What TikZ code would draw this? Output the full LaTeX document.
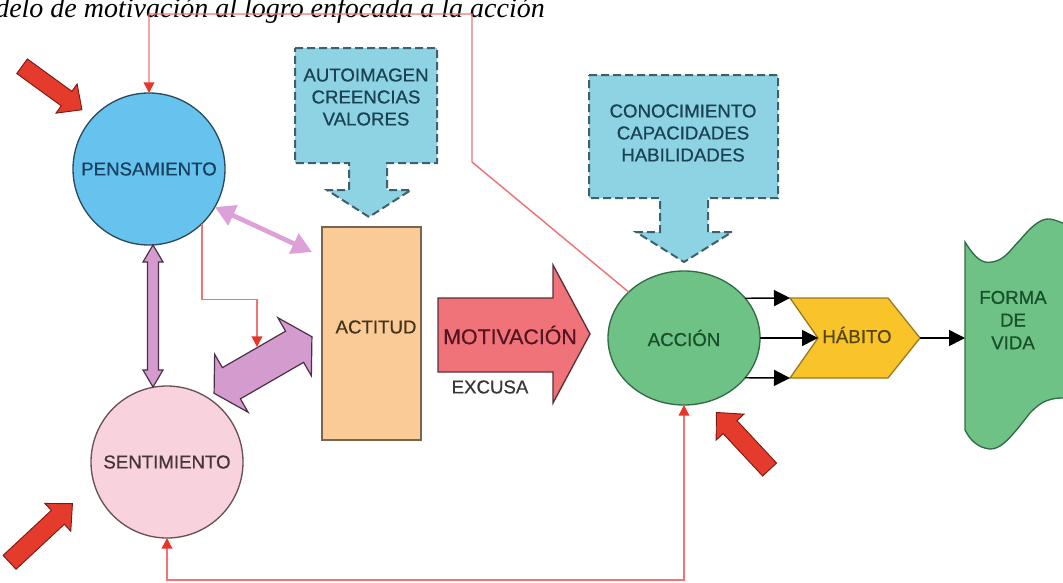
\documentclass[tikz,border=0pt]{standalone}
\usepackage{fontspec}
\setmainfont{Liberation Sans}
\newfontfamily\lblfont[FakeBold=0.7]{Liberation Sans}
\newfontfamily\titlefont{Liberation Serif}
\usetikzlibrary{shapes.geometric,arrows.meta,calc}
\definecolor{pensBlue}{HTML}{66C3EE}
\definecolor{pensEdge}{HTML}{2E4A5C}
\definecolor{pensText}{HTML}{1A4060}
\definecolor{sentPink}{HTML}{F8D2DC}
\definecolor{sentEdge}{HTML}{6B5058}
\definecolor{sentText}{HTML}{45343C}
\definecolor{actFill}{HTML}{FBCB97}
\definecolor{actEdge}{HTML}{7A6550}
\definecolor{actText}{HTML}{45341C}
\definecolor{motFill}{HTML}{F07379}
\definecolor{motEdge}{HTML}{5A3038}
\definecolor{motText}{HTML}{551520}
\definecolor{accFill}{HTML}{6EC286}
\definecolor{accEdge}{HTML}{2F6B45}
\definecolor{accText}{HTML}{17502A}
\definecolor{habFill}{HTML}{F9C42A}
\definecolor{habEdge}{HTML}{9A7A20}
\definecolor{habText}{HTML}{54440E}
\definecolor{callFill}{HTML}{8DD3E3}
\definecolor{callEdge}{HTML}{3F5F6B}
\definecolor{callText}{HTML}{1A4252}
\definecolor{purpFill}{HTML}{D49BCF}
\definecolor{purpEdge}{HTML}{4A3046}
\definecolor{pinkA}{HTML}{DDA0D8}
\definecolor{lineRed}{HTML}{F07474}
\definecolor{tipRed}{HTML}{E8352A}
\definecolor{arrowRed}{HTML}{E53B2C}
\definecolor{arrowRedDark}{HTML}{7A1A10}
\definecolor{excText}{HTML}{383838}
% single block arrow: cx, cy, angle, length, half shaft, half head, head length, style
\newcommand\blockarrowone[8]{%
  \path[#8, shift={(#1,#2)}, rotate=#3]
    ({-#4/2},{-#5}) -- ({#4/2-#7},{-#5}) -- ({#4/2-#7},{-#6}) -- ({#4/2},0)
    -- ({#4/2-#7},{#6}) -- ({#4/2-#7},{#5}) -- ({-#4/2},{#5}) -- cycle;}
% double block arrow
\newcommand\blockarrowtwo[8]{%
  \path[#8, shift={(#1,#2)}, rotate=#3]
    ({-#4/2},0) -- ({-#4/2+#7},{-#6}) -- ({-#4/2+#7},{-#5}) -- ({#4/2-#7},{-#5})
    -- ({#4/2-#7},{-#6}) -- ({#4/2},0) -- ({#4/2-#7},{#6}) -- ({#4/2-#7},{#5})
    -- ({-#4/2+#7},{#5}) -- ({-#4/2+#7},{#6}) -- cycle;}
\begin{document}
\begin{tikzpicture}[x=0.75pt,y=-0.75pt,
  lbl/.style={font=\lblfont\fontsize{14}{16.5}\selectfont, align=center, inner sep=0pt},
  callout/.style={fill=callFill, draw=callEdge, line width=1.5pt, dash pattern=on 6pt off 3pt},
  redline/.style={draw=lineRed, line width=1.1pt},
  redtip/.style={-{Triangle[length=8pt,width=8pt,color=tipRed]}},
  blk/.style={draw=black, line width=1.1pt, -{Triangle[length=12pt,width=12pt]}},
  pinkarrow/.style={draw=pinkA, line width=3.5pt, {Triangle[length=15pt,width=16pt]}-{Triangle[length=15pt,width=16pt]}},
  bigred/.style={fill=arrowRed, draw=arrowRedDark, line width=0.7pt, line join=miter},
  purparrow/.style={fill=purpFill, draw=purpEdge, line width=0.9pt, line join=miter},
  bubble/.style={line width=1pt, inner sep=0pt, outer sep=0pt}
]
\useasboundingbox (0,0) rectangle (1063,582);

% title (cut at the top edge as in the reference)
\node[anchor=base west, font=\titlefont\itshape\fontsize{21}{24}\selectfont, inner sep=0pt] (title) at (-5,17) {delo de motivación al logro enfocada a la acción};

% callouts
\path[callout] (295,48) -- (437,48) -- (437,163) -- (387,163) -- (387,190) -- (411,190) -- (369,217) -- (327,190) -- (349,190) -- (349,163) -- (295,163) -- cycle;
\node[lbl, text=callText] (auto) at (366,97) {AUTOIMAGEN\\CREENCIAS\\VALORES};
\path[callout] (589,75) -- (778,75) -- (778,198) -- (708,198) -- (708,232) -- (732,232) -- (684,262) -- (636,232) -- (660,232) -- (660,198) -- (589,198) -- cycle;
\node[lbl, text=callText] (cono) at (683,133) {CONOCIMIENTO\\CAPACIDADES\\HABILIDADES};

% main nodes
\node[bubble, circle, minimum size=114pt, fill=pensBlue, draw=pensEdge, lbl, text=pensText] (pens) at (149,169) {PENSAMIENTO};
\node[bubble, circle, minimum size=114pt, fill=sentPink, draw=sentEdge, lbl, text=sentText] (sent) at (167,462) {SENTIMIENTO};
\node[bubble, rectangle, minimum width=74.25pt, minimum height=159.75pt, fill=actFill, draw=actEdge] (act) at (371.5,333.5) {};
\node[lbl, text=actText] (acttxt) at (376,327) {ACTITUD};

% motivacion arrow
\path[fill=motFill, draw=motEdge, line width=1pt, line join=miter] (438,298) -- (553,298) -- (553,265) -- (590,334) -- (553,403) -- (553,372) -- (438,372) -- cycle;
\node[lbl, font=\lblfont\fontsize{16}{18}\selectfont, text=motText] (mot) at (510,335) {MOTIVACIÓN};
\node[lbl, text=excText] (exc) at (490,387) {EXCUSA};

% accion
\node[bubble, ellipse, minimum width=114pt, minimum height=100.5pt, fill=accFill, draw=accEdge, lbl, text=accText] (acc) at (684,338) {ACCIÓN};

% habito
\coordinate (habTL) at (790,298);
\coordinate (habN) at (818,338);
\coordinate (habBL) at (790,378);
\coordinate (habTip) at (920,338);
\path[fill=habFill, draw=habEdge, line width=1pt] (habTL) -- (888,298) -- (habTip) -- (888,378) -- (habBL) -- (habN) -- cycle;
\node[lbl, text=habText] (hab) at (857,335) {HÁBITO};

% forma de vida
\path[fill=accFill, draw=accEdge, line width=1pt] (965,242) .. controls (975,258) and (982,264) .. (992,262) .. controls (1005,260) and (1010,250) .. (1020,240) .. controls (1030,228) and (1040,218) .. (1050,219) .. controls (1056,220) and (1060,222) .. (1070,226) -- (1070,400) -- (1063,398) .. controls (1045,398) and (1038,405) .. (1030,413) .. controls (1015,432) and (1002,450) .. (990,449) .. controls (978,448) and (970,440) .. (965,430) -- cycle;
\node[lbl, text=accText, font=\lblfont\fontsize{14}{17}\selectfont] (fdv) at (1013,320) {FORMA\\DE\\VIDA};
\coordinate (fdvL) at (965,338);

% purple arrows
\blockarrowtwo{153}{316}{90}{142}{5.5}{10}{17}{purparrow}
\blockarrowtwo{263}{365}{30}{113}{18}{33.5}{20}{purparrow}
\draw[pinkarrow] (pens.-30) -- ($(act.north west)+(-10,25)$);

% red block arrows
\blockarrowone{52}{88}{-36}{74}{9}{18}{19}{bigred}
\blockarrowone{41}{533}{43}{86}{9.5}{19}{20}{bigred}
\blockarrowone{743}{441}{133}{78}{9.5}{19}{20}{bigred}

% red feedback lines
\coordinate (c1) at (472,162);
\coordinate (c2) at (472,14);
\coordinate (pa) at (257,347);
\draw[redline, redtip] (acc) -- (c1) -- (c2) -| (pens.north);
\draw[redline, redtip] (pens.-46.6) -- ++(0,76) -| (pa);
\draw[redline, {Triangle[length=8pt,width=8pt,color=tipRed]}-{Triangle[length=8pt,width=8pt,color=tipRed]}] (sent.south) -- ++(0,42) -| (acc.south);

% black arrows
\draw[blk] (acc.33) -- (habTL);
\draw[blk] (acc.east) -- (habN);
\draw[blk] (acc.-33) -- (habBL);
\draw[blk] (habTip) -- (fdvL);
\end{tikzpicture}
\end{document}
